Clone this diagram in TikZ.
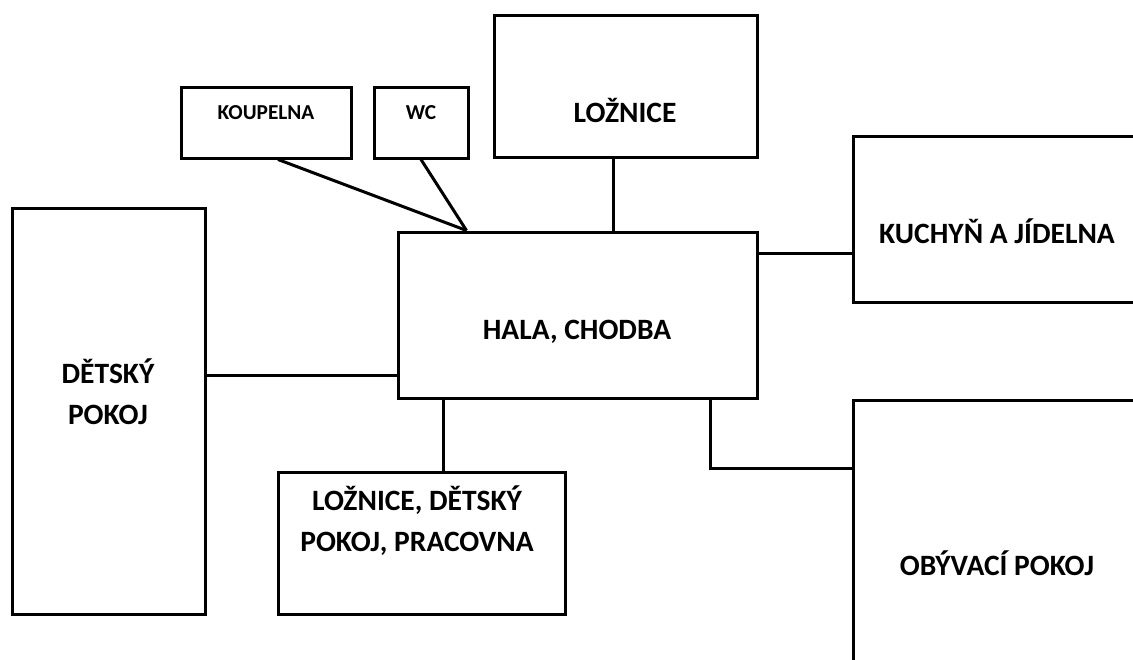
\documentclass[tikz,border=0pt]{standalone}
\usepackage{fontspec}
\setmainfont{Carlito}
\usetikzlibrary{positioning}
\tikzset{
  room/.style 2 args={draw, line width=3pt, inner sep=0pt, minimum width=#1, minimum height=#2},
  smalltxt/.style={anchor=base, font=\fontsize{21.3}{26}\selectfont\bfseries},
  roomtxt/.style={anchor=base, align=center, font=\fontsize{29.5}{41}\selectfont\bfseries}
}
\begin{document}
\begin{tikzpicture}[x=1pt,y=-1pt,line width=3pt]
\path[use as bounding box, clip] (0,0) rectangle (1133,659);
\node[room={170}{71}] (koupelna) at (266,122.5) {};
\node[room={94}{71}] (wc) at (421,122.5) {};
\node[room={263}{142}] (loznice) at (625.5,86) {};
\node[room={359}{166}] (hala) at (577.5,315) {};
\node[room={350}{166}] (kuchyn) at (1028,219) {};
\node[room={350}{320}] (obyvaci) at (1028,560) {};
\node[room={193}{406}] (detsky) at (108.5,411) {};
\node[room={287}{142}] (loznice2) at (421.5,543) {};
\node[smalltxt] (tkoupelna) at (266,119) {KOUPELNA};
\node[smalltxt] (twc) at (421,119) {WC};
\node[roomtxt] (tloznice) at (625,122) {LOŽNICE};
\node[roomtxt] (thala) at (577,339) {HALA, CHODBA};
\node[roomtxt] (tkuchyn) at (997,243) {KUCHYŇ A JÍDELNA};
\node[roomtxt] (tobyvaci) at (997,575) {OBÝVACÍ POKOJ};
\node[roomtxt] (tdetsky) at (108,424) {DĚTSKÝ\\POKOJ};
\node[roomtxt] (tloznice2) at (417,551) {LOŽNICE, DĚTSKÝ\\POKOJ, PRACOVNA};
\draw ([xshift=12pt]koupelna.south) -- ([xshift=70pt]hala.north west);
\draw (wc.south) -- ([xshift=70pt]hala.north west);
\draw ([xshift=-12.5pt]loznice.south) -- ([xshift=-12.5pt]loznice.south |- hala.north);
\draw ([yshift=-23pt]hala.north east) -- ([yshift=-23pt]hala.north east -| kuchyn.west);
\draw ([yshift=24pt]hala.south west) -- ([yshift=24pt]hala.south west -| detsky.east);
\draw ([xshift=47pt]hala.south west) -- ([xshift=47pt]hala.south west |- loznice2.north);
\draw ([xshift=-48pt]hala.south east) |- ([yshift=-70pt]obyvaci.north west);
\end{tikzpicture}
\end{document}
